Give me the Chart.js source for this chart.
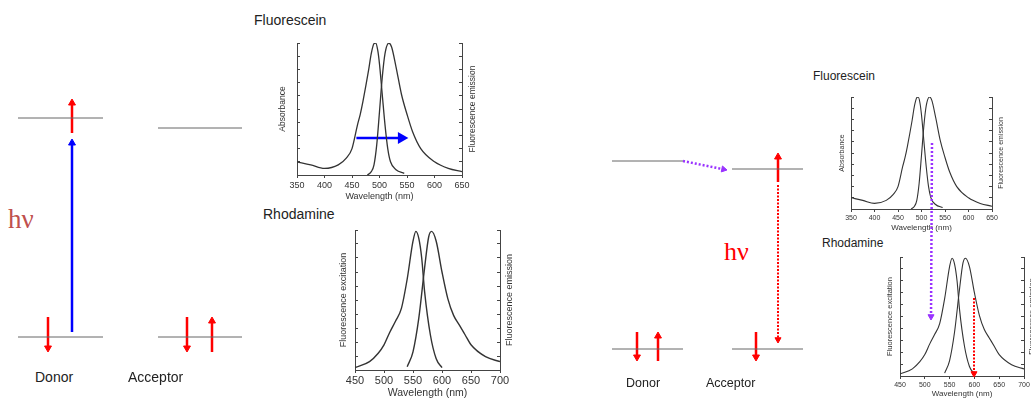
<!DOCTYPE html>
<html>
<head>
<meta charset="utf-8">
<script src="https://cdn.jsdelivr.net/npm/chart.js@4.4.1/dist/chart.umd.min.js"></script>
<style>
  html, body { margin: 0; padding: 0; background: #fff; overflow: hidden; }
  body { position: relative; width: 1031px; height: 399px; font-family: "Liberation Sans", Arial, sans-serif; color: #222; }
  canvas, .lbl { position: absolute; }
  #diagram { left: 0; top: 0; z-index: 5; pointer-events: none; }
  .lbl { white-space: nowrap; line-height: 1; }
  .hv { font-family: "Liberation Serif", "Times New Roman", serif; }
</style>
</head>
<body>
<canvas id="diagram" width="1031" height="399"></canvas>
<canvas id="fluo1"></canvas>
<canvas id="rhod1"></canvas>
<canvas id="fluo2"></canvas>
<canvas id="rhod2"></canvas>

<div class="lbl" style="left:254px;top:13px;font-size:14px">Fluorescein</div>
<div class="lbl" style="left:263px;top:207px;font-size:14px">Rhodamine</div>
<div class="lbl" style="left:813px;top:70px;font-size:12px">Fluorescein</div>
<div class="lbl" style="left:822px;top:237px;font-size:12px">Rhodamine</div>

<div class="lbl hv" style="left:8px;top:206px;font-size:27px;color:#c0504d">hν</div>
<div class="lbl hv" style="left:724px;top:239px;font-size:26px;color:#ff0000">hν</div>

<div class="lbl" style="left:35px;top:370px;font-size:14px">Donor</div>
<div class="lbl" style="left:128px;top:370px;font-size:14px">Acceptor</div>
<div class="lbl" style="left:626px;top:377px;font-size:12.5px">Donor</div>
<div class="lbl" style="left:706px;top:377px;font-size:12.5px">Acceptor</div>

<script>
// Spectra (normalised)
const fluoAbsWl = [350, 375, 400, 425, 440, 450, 460, 465, 470, 480, 485, 490, 493, 497, 500, 505, 510, 515, 520, 530, 545];
const fluoAbs   = [0.10, 0.077, 0.05, 0.077, 0.13, 0.20, 0.38, 0.46, 0.56, 0.79, 0.92, 0.995, 1.0, 0.94, 0.84, 0.61, 0.38, 0.20, 0.10, 0.04, 0.013];
const fluoEmWl  = [478, 485, 490, 495, 500, 505, 510, 517, 522, 530, 540, 550, 560, 575, 600, 625, 650];
const fluoEm    = [0, 0.025, 0.077, 0.23, 0.48, 0.74, 0.92, 1.0, 0.97, 0.82, 0.61, 0.46, 0.33, 0.20, 0.10, 0.05, 0.025];

const rhodExWl  = [450, 475, 490, 500, 510, 520, 530, 540, 550, 555, 560, 565, 570, 580, 590, 600];
const rhodEx    = [0.017, 0.06, 0.12, 0.18, 0.27, 0.35, 0.44, 0.65, 0.92, 0.99, 0.94, 0.80, 0.56, 0.25, 0.08, 0.017];
const rhodEmWl  = [540, 550, 560, 570, 577, 582, 590, 600, 610, 620, 630, 640, 650, 675, 700];
const rhodEm    = [0.024, 0.13, 0.37, 0.73, 0.95, 0.99, 0.92, 0.70, 0.51, 0.39, 0.32, 0.25, 0.18, 0.095, 0.06];

// blue arrow across the fluorescein spectrum: [from nm, to nm, level]
const overlapArrow = [458, 548, 0.28];

// Energy-level diagram, in page units: [x1, x2, y]
const levelLines = [
    [18, 103, 118], [158, 242, 128], [18, 103, 337], [158, 242, 337],
    [612, 683, 161], [732, 803, 169], [612, 683, 349], [732, 803, 349]
];
// arrows: [x1, y1, x2(tip), y2(tip)]
const spinArrows = [
    [72, 133, 72, 99], [48, 317, 48, 352], [187, 317, 187, 352], [212, 352, 212, 317],
    [778, 182, 778, 153], [637, 332, 637, 361], [658, 361, 658, 332], [756, 332, 756, 361]
];
const exciteArrows = [[72, 332, 72, 139]];
const transferArrows = [[683, 161, 727, 170], [932, 143, 931, 320]];
const emitArrows = [[778, 185, 778, 343], [974, 298, 974, 377]];

const pts = (xs, ys) => xs.map((x, i) => ({ x: x, y: ys[i] }));

function arrowSet(a, color, width, dash, r) {
    const dx = a[2] - a[0], dy = a[3] - a[1];
    const len = Math.hypot(dx, dy);
    const hx = a[2] - dx / len * r, hy = a[3] - dy / len * r;
    const rot = Math.atan2(dx, -dy) * 180 / Math.PI;
    return {
        data: [{ x: a[0], y: a[1] }, { x: hx, y: hy }],
        showLine: true,
        borderColor: color,
        borderWidth: width,
        borderDash: dash,
        pointStyle: 'triangle',
        pointRadius: [0, r],
        rotation: [0, rot],
        pointBackgroundColor: color,
        pointBorderColor: color,
        pointBorderWidth: 1,
        clip: false
    };
}

const diagramSets = [];
levelLines.forEach(l => diagramSets.push({
    data: [{ x: l[0], y: l[2] }, { x: l[1], y: l[2] }],
    showLine: true, borderColor: '#666', borderWidth: 1, pointRadius: 0, clip: false
}));
spinArrows.forEach(a => diagramSets.push(arrowSet(a, '#ff0000', 2.5, [], 4)));
exciteArrows.forEach(a => diagramSets.push(arrowSet(a, '#0000ff', 2.5, [], 4)));
transferArrows.forEach(a => diagramSets.push(arrowSet(a, '#9932ff', 2.5, [2, 2], 3.5)));
emitArrows.forEach(a => diagramSets.push(arrowSet(a, '#ff0000', 2, [2, 1.5], 3.5)));

new Chart(document.getElementById('diagram'), {
    type: 'scatter',
    data: { datasets: diagramSets },
    options: {
        responsive: false,
        animation: false,
        events: [],
        layout: { padding: 0, autoPadding: false },
        plugins: { legend: { display: false }, tooltip: { enabled: false } },
        scales: {
            x: { type: 'linear', min: 0, max: 1031, display: false },
            y: { type: 'linear', min: 0, max: 399, reverse: true, display: false }
        }
    }
});

// right-hand axis title, reading bottom to top like the left one
const rightTitle = {
    id: 'rightTitle',
    afterDraw(chart, args, opts) {
        const s = chart.scales.y1, a = chart.chartArea, ctx = chart.ctx;
        ctx.save();
        ctx.font = opts.size + 'px "Liberation Sans", Arial, sans-serif';
        ctx.fillStyle = '#333';
        ctx.textAlign = 'center';
        ctx.textBaseline = 'middle';
        ctx.translate(s.right - opts.size * 0.6, (a.top + a.bottom) / 2);
        ctx.rotate(-Math.PI / 2);
        ctx.fillText(opts.text, 0, 0);
        ctx.restore();
    }
};

function spectrum(id, c) {
    const canvas = document.getElementById(id);
    canvas.width = c.padL + c.plotW + c.padR;
    canvas.height = c.padT + c.plotH + c.padB;
    canvas.style.left = (c.left - c.padL) + 'px';
    canvas.style.top = (c.top - c.padT) + 'px';

    const curve = (data) => ({
        data: data, borderColor: '#333', borderWidth: c.lineW, pointRadius: 0,
        cubicInterpolationMode: 'monotone', yAxisID: 'y'
    });
    const datasets = c.series.map(curve).concat(c.extra || []);
    const yAxis = (pos, w) => ({
        type: 'linear', position: pos, min: 0, max: 1,
        ticks: { display: false, stepSize: 0.1 },
        grid: { drawOnChartArea: false, tickLength: -3, color: '#444' },
        border: { display: true, color: '#444', width: 1 },
        afterFit: s => { s.width = w; }
    });
    const left = yAxis('left', c.padL);
    left.title = { display: true, text: c.leftTitle, color: '#333', padding: 0,
        font: { size: c.axisFont, family: '"Liberation Sans", Arial, sans-serif' } };

    new Chart(canvas, {
        type: 'line',
        data: { datasets: datasets },
        plugins: [rightTitle],
        options: {
            responsive: false,
            animation: false,
            events: [],
            layout: { padding: { top: c.padT, left: 0, right: 0, bottom: 0 }, autoPadding: false },
            plugins: {
                legend: { display: false },
                tooltip: { enabled: false },
                rightTitle: { text: 'Fluorescence emission', size: c.axisFont }
            },
            scales: {
                x: {
                    type: 'linear', min: c.xMin, max: c.xMax,
                    ticks: { stepSize: 50, color: '#333', padding: c.tickPad, maxRotation: 0,
                        font: { size: c.tickFont, family: '"Liberation Sans", Arial, sans-serif' } },
                    grid: { drawOnChartArea: false, tickLength: 3, color: '#444' },
                    border: { display: true, color: '#444', width: 1 },
                    title: { display: true, text: 'Wavelength (nm)', color: '#333', padding: 0,
                        font: { size: c.titleFont, family: '"Liberation Sans", Arial, sans-serif' } },
                    afterFit: s => { s.height = c.padB; }
                },
                y: left,
                y1: yAxis('right', c.padR)
            }
        }
    });
}

const fluoSeries = [pts(fluoAbsWl, fluoAbs), pts(fluoEmWl, fluoEm)];
const rhodSeries = [pts(rhodExWl, rhodEx), pts(rhodEmWl, rhodEm)];

// blue arrow, head pulled back so its tip lands on the end value
const f1PlotW = 165, headR = 4.5;
const headShift = headR * (650 - 350) / f1PlotW;
spectrum('fluo1', {
    left: 297, top: 43, plotW: 165, plotH: 132, padL: 19, padR: 16, padT: 5, padB: 27,
    xMin: 350, xMax: 650, tickFont: 9, titleFont: 9, axisFont: 8.5, tickPad: 2, lineW: 1.3,
    leftTitle: 'Absorbance', series: fluoSeries,
    extra: [{
        data: [{ x: overlapArrow[0], y: overlapArrow[2] }, { x: overlapArrow[1] - headShift, y: overlapArrow[2] }],
        borderColor: '#0000ff', borderWidth: 2.5, yAxisID: 'y',
        pointStyle: 'triangle', pointRadius: [0, headR], rotation: [0, 90],
        pointBackgroundColor: '#0000ff', pointBorderColor: '#0000ff'
    }]
});
spectrum('rhod1', {
    left: 355, top: 230, plotW: 145, plotH: 140, padL: 17, padR: 15, padT: 5, padB: 29,
    xMin: 450, xMax: 700, tickFont: 11, titleFont: 10.5, axisFont: 9, tickPad: 1.5, lineW: 1.4,
    leftTitle: 'Fluorescence excitation', series: rhodSeries
});
spectrum('fluo2', {
    left: 851, top: 97, plotW: 141, plotH: 112, padL: 13, padR: 13, padT: 5, padB: 24,
    xMin: 350, xMax: 650, tickFont: 7, titleFont: 8, axisFont: 7, tickPad: 2, lineW: 1.1,
    leftTitle: 'Absorbance', series: fluoSeries
});
spectrum('rhod2', {
    left: 900, top: 257, plotW: 124, plotH: 119, padL: 15, padR: 12, padT: 5, padB: 23,
    xMin: 450, xMax: 700, tickFont: 7, titleFont: 8, axisFont: 7.5, tickPad: 2, lineW: 1.1,
    leftTitle: 'Fluorescence excitation', series: rhodSeries
});
</script>
</body>
</html>
